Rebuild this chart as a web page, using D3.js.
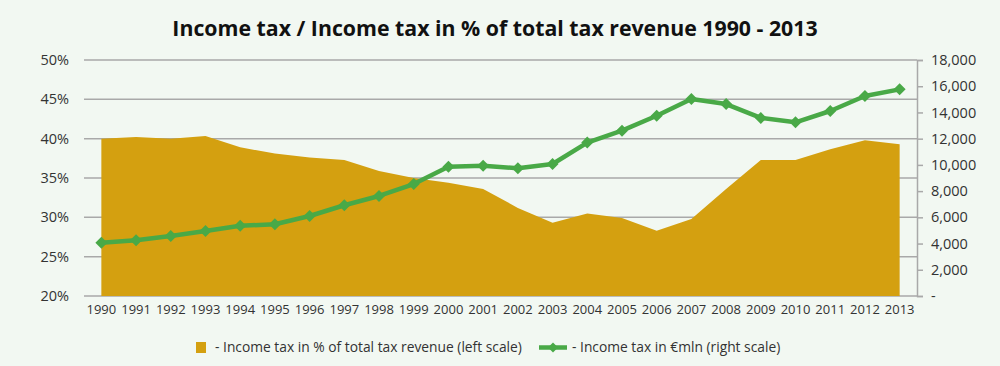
<!DOCTYPE html>
<html><head><meta charset="utf-8">
<script src="https://cdn.jsdelivr.net/npm/d3@7"></script>
<style>
html,body{margin:0;padding:0;background:#f2f8f2;}
svg{display:block;font-family:"Open Sans",sans-serif;}
</style></head>
<body><svg id="c" width="1000" height="366"></svg>
<script>
const years = ["1990","1991","1992","1993","1994","1995","1996","1997","1998","1999","2000","2001","2002","2003","2004","2005","2006","2007","2008","2009","2010","2011","2012","2013"];
const pctShare = [40.0,40.2,40.0,40.35,38.9,38.1,37.6,37.3,35.9,35.0,34.4,33.6,31.2,29.3,30.5,29.9,28.3,29.8,33.6,37.3,37.3,38.65,39.8,39.3];
const taxMln = [4060,4250,4580,4960,5360,5470,6100,6920,7630,8540,9860,9940,9740,10070,11700,12610,13750,15030,14640,13580,13250,14110,15250,15760];
const leftTicks = [20,25,30,35,40,45,50];
const rightTicks = [0,2000,4000,6000,8000,10000,12000,14000,16000,18000];
const titleText = "Income tax / Income tax in % of total tax revenue 1990 - 2013";
const legendArea = "- Income tax in % of total tax revenue (left scale)";
const legendLine = "- Income tax in €mln (right scale)";

const svg = d3.select("#c");
const L = 84, R = 917, T = 60, B = 296;
const x = d3.scaleBand().domain(years).range([L, R]);
const cx = d => x(d) + x.bandwidth()/2;
const yL = d3.scaleLinear().domain([20,50]).range([B, T]);
const yR = d3.scaleLinear().domain([0,18000]).range([B, T]);

svg.append("text").attr("x", 495).attr("y", 36).attr("text-anchor","middle")
  .attr("font-size", 21.3).attr("font-weight","bold").attr("fill","#111").text(titleText);

// gridlines
svg.append("g").selectAll("line").data(leftTicks).join("line")
  .attr("x1", L).attr("x2", R).attr("y1", d=>yL(d)).attr("y2", d=>yL(d))
  .attr("stroke","#a9a9a9").attr("stroke-width",1.5);

// area
const area = d3.area().x((d,i)=>cx(years[i])).y0(yL(20)).y1(d=>yL(d));
svg.append("path").datum(pctShare).attr("d", area).attr("fill","#d4a010");

// left axis
const gl = svg.append("g").attr("transform",`translate(${L},0)`)
  .call(d3.axisLeft(yL).tickValues(leftTicks).tickFormat(d=>d+"%").tickSize(0).tickPadding(15));
gl.select(".domain").remove();
gl.selectAll("text").attr("font-size",14.5).attr("fill","#333").attr("font-family","Open Sans, sans-serif");

// right axis
const gr = svg.append("g").attr("transform",`translate(${R},0)`)
  .call(d3.axisRight(yR).tickValues(rightTicks).tickFormat(d=> d===0 ? "-" : d3.format(",")(d)).tickSize(6).tickPadding(8));
gr.select(".domain").attr("stroke","#a9a9a9").attr("stroke-width",1.5);
gr.selectAll(".tick line").attr("stroke","#a9a9a9").attr("stroke-width",1.5);
gr.selectAll("text").attr("font-size",14.5).attr("fill","#333").attr("font-family","Open Sans, sans-serif");

// x axis
const gx = svg.append("g").attr("transform",`translate(0,${B})`)
  .call(d3.axisBottom(x).tickSize(0).tickPadding(9));
gx.select(".domain").remove();
gx.selectAll("text").attr("font-size",13).attr("fill","#333").attr("font-family","Open Sans, sans-serif");

// line
const line = d3.line().x((d,i)=>cx(years[i])).y(d=>yR(d));
svg.append("path").datum(taxMln).attr("d", line).attr("fill","none")
  .attr("stroke","#49a947").attr("stroke-width",4.5).attr("stroke-linejoin","round");
const diamond = d3.symbol().type(d3.symbolSquare).size(72);
svg.append("g").selectAll("path").data(taxMln).join("path")
  .attr("transform",(d,i)=>`translate(${cx(years[i])},${yR(d)}) rotate(45)`)
  .attr("d", diamond).attr("fill","#49a947");

// legend
const lg = svg.append("g");
lg.append("rect").attr("x",196).attr("y",342).attr("width",10).attr("height",11).attr("fill","#d4a010");
lg.append("text").attr("x",215).attr("y",352).attr("font-size",13.8).attr("fill","#333").text(legendArea);
lg.append("line").attr("x1",539).attr("x2",567).attr("y1",347.5).attr("y2",347.5).attr("stroke","#49a947").attr("stroke-width",4.5);
lg.append("path").attr("transform","translate(553,347.5) rotate(45)").attr("d", d3.symbol().type(d3.symbolSquare).size(50)).attr("fill","#49a947");
lg.append("text").attr("x",572).attr("y",352).attr("font-size",13.8).attr("fill","#333").text(legendLine);
</script></body></html>
